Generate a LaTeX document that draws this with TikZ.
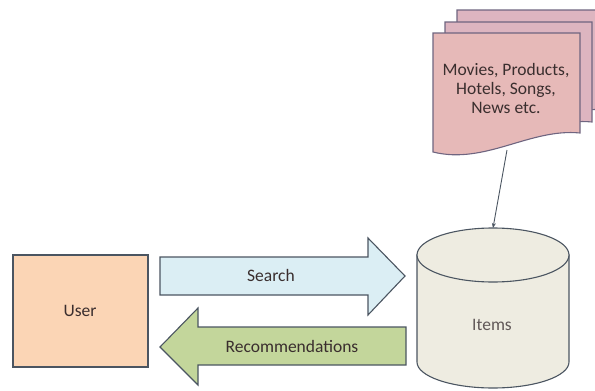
\documentclass[tikz,border=0pt]{standalone}
\usepackage{fontspec}
\setmainfont{Carlito}
\usetikzlibrary{arrows.meta}
\definecolor{userfill}{HTML}{FBD5B5}
\definecolor{searchfill}{HTML}{DBEEF4}
\definecolor{recofill}{HTML}{C3D69B}
\definecolor{dbfill}{HTML}{EEECE1}
\definecolor{pagefill}{HTML}{E6B9B8}
\definecolor{pageback}{HTML}{DDB5C0}
\definecolor{edge}{HTML}{4B5561}
\definecolor{pageedge}{HTML}{6F6580}
\definecolor{ink}{HTML}{3A2E2E}
\tikzset{
  shapeline/.style={draw=edge, line width=1.1pt},
  pageline/.style={draw=pageedge, line width=1.1pt},
  lbl/.style={font=\fontsize{17.5}{19}\selectfont, text=ink, align=center, inner sep=0pt},
}
\newcommand{\pageshape}[3]{% x-offset, y-offset, fill
  \filldraw[pageline, fill=#3, shift={(#1,#2)}]
    (433,33) -- (580,33) -- (580,133)
    .. controls (530,128) and (485,165) .. (433,152) -- cycle;
}
\begin{document}
\begin{tikzpicture}[x=1pt, y=-1pt]
  \useasboundingbox (0,0) rectangle (595,391);

  % stacked item pages
  \pageshape{24}{-23}{pageback}
  \pageshape{12}{-11}{pageback}
  \pageshape{0}{0}{pagefill}
  \node[lbl] (pages) at (506,88) {Movies, Products,\\Hotels, Songs,\\News etc.};
  \coordinate (pagesbottom) at (507,150);

  % user
  \filldraw[shapeline, fill=userfill] (13,255) rectangle (148,367);
  \node[lbl] (user) at (80,311) {User};

  % search arrow
  \filldraw[shapeline, fill=searchfill]
    (160,257) -- (368,257) -- (368,238) -- (405,276) -- (368,315) -- (368,295) -- (160,295) -- cycle;
  \node[lbl] (search) at (271,275) {Search};

  % recommendations arrow
  \filldraw[shapeline, fill=recofill]
    (406,327) -- (198,327) -- (198,308) -- (160,347) -- (198,385) -- (198,365) -- (406,365) -- cycle;
  \node[lbl] (reco) at (292,346) {Recommendations};

  % items database
  \filldraw[shapeline, fill=dbfill]
    (417,255) -- (417,362)
    arc[start angle=180, end angle=360, x radius=76pt, y radius=26pt]
    -- (569,255) -- cycle;
  \filldraw[shapeline, fill=dbfill] (493,255) ellipse[x radius=76pt, y radius=27pt];
  \node[lbl, text=ink!80] (items) at (492,325) {Items};
  \coordinate (itemstop) at (493,228);

  % pages feed the database
  \draw[draw=edge, line width=0.9pt, -{Stealth[length=5pt, width=4pt]}] (pagesbottom) -- (itemstop);
\end{tikzpicture}
\end{document}
